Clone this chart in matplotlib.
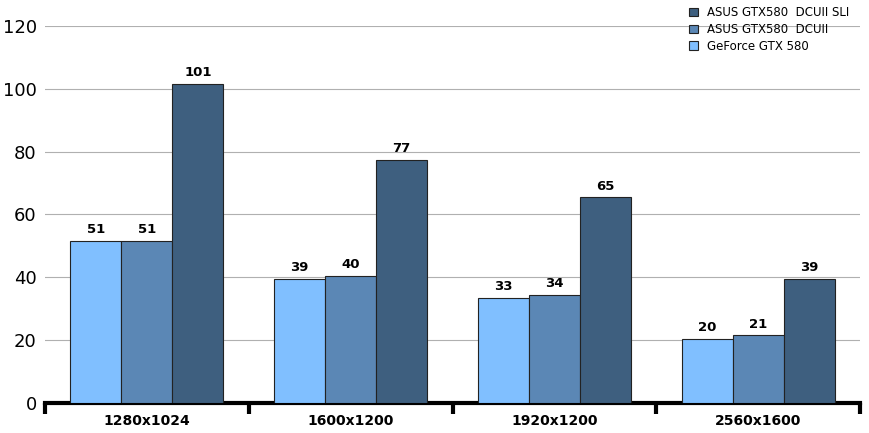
import matplotlib
matplotlib.use("Agg")
import matplotlib.pyplot as plt
import numpy as np

categories = ["1280x1024", "1600x1200", "1920x1200", "2560x1600"]
series = ["GeForce GTX 580", "ASUS GTX580  DCUII", "ASUS GTX580  DCUII SLI"]
values = [
    [51.5, 39.5, 33.5, 20.5],
    [51.5, 40.5, 34.5, 21.5],
    [101.5, 77.5, 65.5, 39.5],
]
labels = [[51, 39, 33, 20], [51, 40, 34, 21], [101, 77, 65, 39]]
colors = ["#80bfff", "#5b87b5", "#3e5f7f"]

fig = plt.figure(figsize=(8.69, 4.33), dpi=100)
ax = fig.add_axes([45/869, 30/433, 815/869, 377/433])
x = np.arange(len(categories))
w = 0.25
handles = []
for i, (vals, c) in enumerate(zip(values, colors)):
    b = ax.bar(x + (i - 1) * w, vals, w, color=c, edgecolor="#222222", linewidth=0.8, zorder=3, label=series[i])
    handles.append(b)
    for xi, v, l in zip(x, vals, labels[i]):
        ax.text(xi + (i - 1) * w, v + 1.5, str(l), ha="center", va="bottom", fontsize=9.5, fontweight="bold", family="DejaVu Sans")
ax.set_xlim(-0.5, 3.5)
ax.set_ylim(0, 120)
ax.set_yticks(range(0, 121, 20))
ax.yaxis.grid(True, color="#b0b0b0", linewidth=0.8, zorder=0)
for s in ["left", "right", "top"]:
    ax.spines[s].set_visible(False)
ax.spines["bottom"].set_linewidth(3)
ax.tick_params(axis="y", length=0, labelsize=13, pad=6)
ax.set_xticks(x)
ax.set_xticklabels(categories, fontsize=10, fontweight="bold")
ax.tick_params(axis="x", length=0, pad=8)
ax.set_xticks(np.arange(-0.5, 4, 1), minor=True)
ax.tick_params(axis="x", which="minor", length=8, width=3, direction="out")
leg = ax.legend(handles[::-1], series[::-1], loc="upper right", bbox_to_anchor=(1.0, 1.08), frameon=False,
                fontsize=8.5, handlelength=0.7, handleheight=0.7, labelspacing=0.3)
fig.savefig("out.png", dpi=100)
